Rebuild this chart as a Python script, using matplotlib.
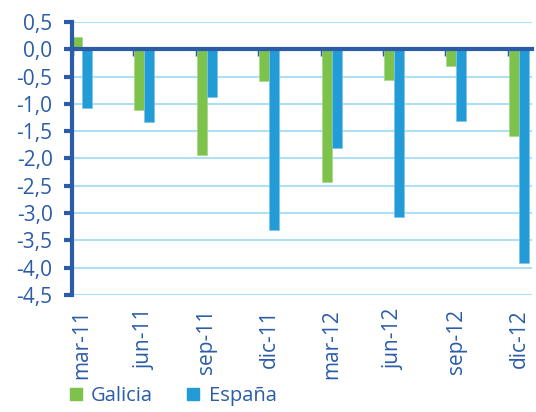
import matplotlib
matplotlib.use("Agg")
import matplotlib.pyplot as plt
from matplotlib.patches import Patch
import numpy as np

categories = ["mar-11", "jun-11", "sep-11", "dic-11", "mar-12", "jun-12", "sep-12", "dic-12"]
galicia = [0.23, -1.12, -1.94, -0.58, -2.43, -0.57, -0.31, -1.58]
espana = [-1.08, -1.34, -0.87, -3.31, -1.81, -3.07, -1.32, -3.91]
yticks = [0.5, 0.0, -0.5, -1.0, -1.5, -2.0, -2.5, -3.0, -3.5, -4.0, -4.5]
series_names = ["Galicia", "España"]

GREEN = "#7dc24b"
BLUE = "#229bd6"
DARK = "#2a5ca8"
GRID = "#aee0f5"
FONT = "Open Sans"

W, H = 536, 412
fig = plt.figure(figsize=(W / 100, H / 100), dpi=100)
ax = fig.add_axes([72 / W, 1 - 295 / H, (532 - 72) / W, (295 - 22) / H])

x = np.arange(len(categories))
bw = 0.16
ax.bar(x - bw / 2, galicia, width=bw, color=GREEN, edgecolor="#a6d88a", linewidth=0.5, zorder=2)
ax.bar(x + bw / 2, espana, width=bw, color=BLUE, edgecolor="#7cc6ea", linewidth=0.5, zorder=2)

ax.set_ylim(-4.5, 0.5)
ax.set_xlim(-bw, x[-1] + 0.21)
ax.set_yticks(yticks)
ax.set_yticklabels([f"{v:.1f}".replace(".", ",") for v in yticks],
                   fontsize=15, color=DARK, family=FONT)
ax.yaxis.grid(True, color=GRID, linewidth=1.5, zorder=0)
ax.set_axisbelow(True)

for s in ["top", "right"]:
    ax.spines[s].set_visible(False)
ax.spines["left"].set_color(DARK)
ax.spines["left"].set_linewidth(3)
ax.spines["left"].set_zorder(4)
ax.tick_params(axis="y", direction="out", length=6, width=3, color=DARK, pad=8)

# zero line as bottom spine with boundary ticks
ax.spines["bottom"].set_position(("data", 0))
ax.spines["bottom"].set_color(DARK)
ax.spines["bottom"].set_linewidth(3)
ax.spines["bottom"].set_zorder(4)
ax.set_xticks(x - bw)
ax.set_xticklabels([])
ax.tick_params(axis="x", direction="out", length=5, width=2.5, color=DARK)

sec = ax.secondary_xaxis("bottom")
sec.spines["bottom"].set_visible(False)
sec.set_xticks(x)
sec.set_xticklabels(categories, rotation=90, fontsize=15, color=DARK, family=FONT)
sec.tick_params(axis="x", length=0, pad=10)

handles = [Patch(color=GREEN), Patch(color=BLUE)]
leg = fig.legend(handles, series_names, loc="center left",
                 bbox_to_anchor=(70 / W, 1 - 396 / H), ncol=2, frameon=False,
                 borderpad=0, borderaxespad=0,
                 handlelength=0.6, handleheight=0.6, handletextpad=0.45,
                 columnspacing=1.7, prop={"family": FONT, "size": 14.5})
for t in leg.get_texts():
    t.set_color(DARK)

fig.savefig("out.png", dpi=100)
